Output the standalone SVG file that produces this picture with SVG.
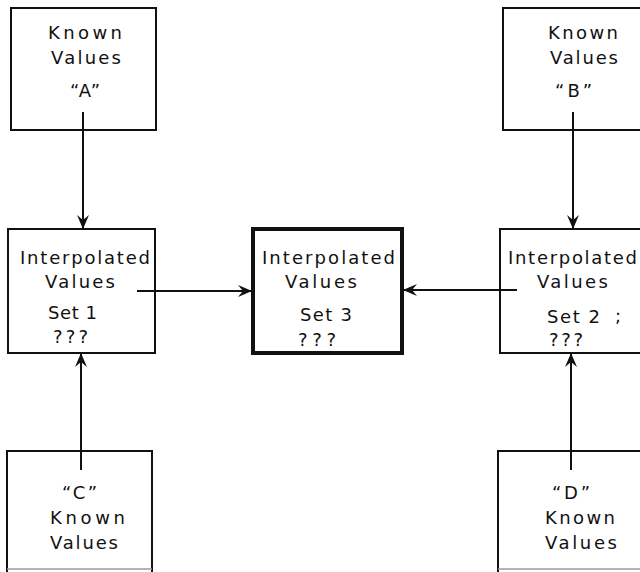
<svg xmlns="http://www.w3.org/2000/svg" width="640" height="572" viewBox="0 0 640 572">
  <style>
    .box { fill: #ffffff; stroke: #111111; stroke-width: 2; }
    .bold { stroke-width: 4; }
    .edge { fill: none; stroke: #111111; stroke-width: 2; }
    .cut { fill: none; stroke: #9a9a9a; stroke-width: 1.5; }
    .link { fill: none; stroke: #111111; stroke-width: 2; }
    text { font-family: "DejaVu Sans", "Liberation Sans", sans-serif; font-size: 18px; fill: #111111; }
  </style>
  <defs>
    <marker id="head" viewBox="0 0 14 12" refX="13" refY="6" markerWidth="14" markerHeight="12" markerUnits="userSpaceOnUse" orient="auto">
      <path d="M0,0 L14,6 L0,12 L5,6 Z" fill="#111111"/>
    </marker>
  </defs>

  <rect width="640" height="572" fill="#ffffff"/>

  <!-- Known Values "A" -->
  <g id="knownA">
    <rect class="box" x="11" y="8" width="145" height="122"/>
    <text x="48" y="39" textLength="74" lengthAdjust="spacing">Known</text>
    <text x="51" y="64" textLength="70" lengthAdjust="spacing">Values</text>
    <text x="70" y="97" textLength="30" lengthAdjust="spacing">“A”</text>
  </g>

  <!-- Known Values "B" -->
  <g id="knownB">
    <rect class="box" x="503" y="8" width="150" height="122"/>
    <text x="548" y="39" textLength="70" lengthAdjust="spacing">Known</text>
    <text x="550" y="64" textLength="68" lengthAdjust="spacing">Values</text>
    <text x="555" y="97" textLength="37" lengthAdjust="spacing">“B”</text>
  </g>

  <!-- Interpolated Values Set 1 -->
  <g id="set1">
    <rect class="box" x="8" y="229" width="147" height="124"/>
    <text x="20" y="264" textLength="130" lengthAdjust="spacing">Interpolated</text>
    <text x="45" y="288" textLength="70" lengthAdjust="spacing">Values</text>
    <text x="48" y="319" textLength="49" lengthAdjust="spacing">Set 1</text>
    <text x="53" y="343" textLength="35" lengthAdjust="spacing">???</text>
  </g>

  <!-- Interpolated Values Set 3 -->
  <g id="set3">
    <rect class="box bold" x="253" y="229" width="149" height="124"/>
    <text x="262" y="264" textLength="133" lengthAdjust="spacing">Interpolated</text>
    <text x="285" y="288" textLength="72" lengthAdjust="spacing">Values</text>
    <text x="300" y="321" textLength="52" lengthAdjust="spacing">Set 3</text>
    <text x="298" y="346" textLength="38" lengthAdjust="spacing">???</text>
  </g>

  <!-- Interpolated Values Set 2 -->
  <g id="set2">
    <rect class="box" x="500" y="229" width="155" height="124"/>
    <text x="508" y="264" textLength="129" lengthAdjust="spacing">Interpolated</text>
    <text x="537" y="288" textLength="71" lengthAdjust="spacing">Values</text>
    <text x="547" y="323" textLength="53" lengthAdjust="spacing">Set 2</text>
    <text x="615" y="322" fill="#b0b0b0" font-size="10">;</text>
    <text x="549" y="346" textLength="34" lengthAdjust="spacing">???</text>
  </g>

  <!-- "C" Known Values -->
  <g id="knownC">
    <rect x="7" y="451" width="145" height="118" fill="#ffffff"/>
    <path class="edge" d="M7,572 V451 H152 V572"/>
    <line class="cut" x1="7" y1="569" x2="152" y2="569"/>
    <text x="62" y="499" textLength="35" lengthAdjust="spacing">“C”</text>
    <text x="50" y="524" textLength="75" lengthAdjust="spacing">Known</text>
    <text x="50" y="549" textLength="68" lengthAdjust="spacing">Values</text>
  </g>

  <!-- "D" Known Values -->
  <g id="knownD">
    <rect x="498" y="451" width="150" height="118" fill="#ffffff"/>
    <path class="edge" d="M498,572 V451 H645"/>
    <line class="cut" x1="498" y1="569" x2="640" y2="569"/>
    <text x="552" y="499" textLength="38" lengthAdjust="spacing">“D”</text>
    <text x="545" y="524" textLength="70" lengthAdjust="spacing">Known</text>
    <text x="545" y="549" textLength="72" lengthAdjust="spacing">Values</text>
  </g>

  <!-- Connectors -->
  <g id="connectors">
    <line class="link" x1="83" y1="112" x2="83" y2="228" marker-end="url(#head)"/>
    <line class="link" x1="573" y1="112" x2="573" y2="228" marker-end="url(#head)"/>
    <line class="link" x1="81" y1="470" x2="81" y2="354" marker-end="url(#head)"/>
    <line class="link" x1="571" y1="470" x2="571" y2="354" marker-end="url(#head)"/>
    <line class="link" x1="137" y1="291" x2="251" y2="291" marker-end="url(#head)"/>
    <line class="link" x1="517" y1="290" x2="404" y2="290" marker-end="url(#head)"/>
  </g>
</svg>
